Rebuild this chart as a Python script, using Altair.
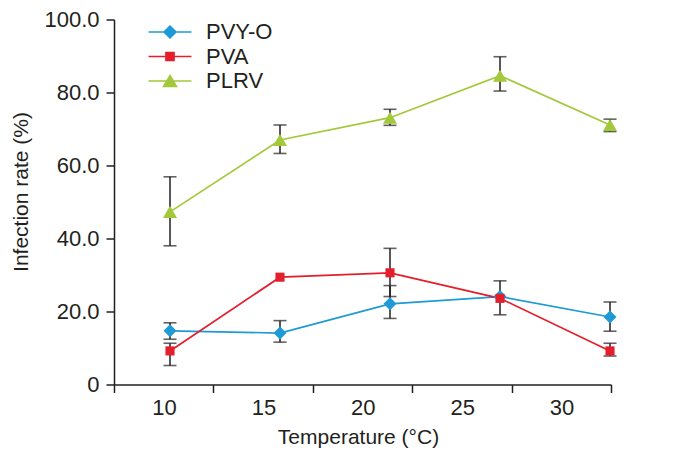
import json
import altair as alt
import pandas as pd

# ---------------- data ----------------
TEMPS = [10, 15, 20, 25, 30]
TEMP_LABELS = ["10", "15", "20", "25", "30"]
SERIES = ["PVY-O", "PVA", "PLRV"]
COLORS = ["#1e9ad6", "#e41e2b", "#a3c83a"]

PVY_O = [14.7, 14.1, 22.1, 24.1, 18.5]
PVY_O_LO = [12.4, 11.6, 18.1, 19.1, 14.6]
PVY_O_HI = [16.9, 17.5, 27.1, 28.4, 22.6]

PVA = [9.2, 29.4, 30.6, 23.6, 9.2]
PVA_LO = [5.2, 29.4, 24.1, 23.6, 7.8]
PVA_HI = [11.3, 29.4, 37.3, 23.6, 11.3]

PLRV = [47.3, 67.0, 73.1, 84.6, 71.1]
PLRV_LO = [38.0, 63.3, 71.0, 80.4, 69.3]
PLRV_HI = [56.9, 71.1, 75.4, 89.8, 72.7]

Y_TICKS = [0, 20, 40, 60, 80, 100]

# ---------------- styling ----------------
FONT = "Liberation Sans"
INK = "#231f20"
X_DOMAIN = [7.4545, 30.045]
X_TICKS = [round(X_DOMAIN[0] + k * (X_DOMAIN[1] - X_DOMAIN[0]) / 5, 4) for k in range(6)]

# marker paths (unit = sqrt(size)/2 px)
MARK_PATHS = [
    "M0,-1L1,0L0,1L-1,0Z",
    "M-0.7,-0.7L0.7,-0.7L0.7,0.7L-0.7,0.7Z",
    "M0,-0.93L1.08,0.93L-1.08,0.93Z",
]
LEG_PATHS = ["M-3.3,0L3.3,0" + p for p in [
    "M0,-0.92L0.92,0L0,0.92L-0.92,0Z",
    "M-0.62,-0.62L0.62,-0.62L0.62,0.62L-0.62,0.62Z",
    "M0,-0.85L1.0,0.85L-1.0,0.85Z",
]]

rows = []
for name, vals, lo, hi in [
    ("PVY-O", PVY_O, PVY_O_LO, PVY_O_HI),
    ("PVA", PVA, PVA_LO, PVA_HI),
    ("PLRV", PLRV, PLRV_LO, PLRV_HI),
]:
    for t, v, l, h in zip(TEMPS, vals, lo, hi):
        rows.append({"series": name, "temp": t, "value": v, "lo": l, "hi": h})
df = pd.DataFrame(rows)
err = df[df["hi"] > df["lo"]]

label_expr = (
    f"{json.dumps(TEMP_LABELS + [''])}[indexof({json.dumps(X_TICKS)}, datum.value)]"
)

x_enc = alt.X(
    "temp:Q",
    scale=alt.Scale(domain=X_DOMAIN, nice=False, zero=False),
    axis=alt.Axis(
        values=X_TICKS,
        labelExpr=label_expr,
        labelOffset=50,
        labelFlush=False,
        labelPadding=5,
        tickSize=8,
        title="Temperature (°C)",
        titlePadding=8,
        titleX=244,
        grid=False,
    ),
)
y_axis = alt.Axis(
    values=Y_TICKS,
    labelExpr="datum.value == 0 ? '0' : format(datum.value, '.1f')",
    labelFlush=False,
    labelPadding=7,
    tickSize=8,
    title="Infection rate (%)",
    titlePadding=12,
    titleY=172,
    grid=False,
)
Y_SCALE = alt.Scale(domain=[0, 100], nice=False)
y_enc = alt.Y("value:Q", scale=Y_SCALE, axis=y_axis)

color_enc = alt.Color("series:N", scale=alt.Scale(domain=SERIES, range=COLORS), legend=None)

base = alt.Chart(df)

rules = alt.Chart(err).mark_rule(color=INK, strokeWidth=1.5).encode(
    x=x_enc, y=alt.Y("lo:Q", scale=Y_SCALE, axis=y_axis), y2="hi:Q"
)
cap_lo = alt.Chart(err).mark_tick(color=INK, orient="horizontal", size=13, thickness=1.6).encode(
    x=x_enc, y=alt.Y("lo:Q", scale=Y_SCALE, axis=y_axis)
)
cap_hi = alt.Chart(err).mark_tick(color=INK, orient="horizontal", size=13, thickness=1.6).encode(
    x=x_enc, y=alt.Y("hi:Q", scale=Y_SCALE, axis=y_axis)
)

lines = base.mark_line(strokeWidth=1.7).encode(x=x_enc, y=y_enc, color=color_enc)

points = base.mark_point(filled=True, size=169, opacity=1).encode(
    x=x_enc,
    y=y_enc,
    color=color_enc,
    shape=alt.Shape("series:N", scale=alt.Scale(domain=SERIES, range=MARK_PATHS), legend=None),
)

leg = alt.Legend(
    title=None,
    orient="none",
    legendX=45,
    legendY=1.5,
    padding=0,
    labelFont=FONT,
    labelFontSize=22,
    labelColor=INK,
    labelOffset=25,
    rowPadding=2.5,
    symbolSize=169,
    symbolStrokeWidth=1.6,
    symbolOpacity=1,
)
legend_layer = base.mark_point(filled=True, size=169, opacity=0, strokeWidth=1.6).encode(
    x=x_enc,
    y=y_enc,
    fill=alt.Fill("series:N", scale=alt.Scale(domain=SERIES, range=COLORS), legend=leg),
    stroke=alt.Stroke("series:N", scale=alt.Scale(domain=SERIES, range=COLORS), legend=leg),
    shape=alt.Shape("series:N", scale=alt.Scale(domain=SERIES, range=LEG_PATHS), legend=leg),
)

chart = (
    alt.layer(rules, cap_lo, cap_hi, lines, points, legend_layer)
    .resolve_scale(shape="independent", fill="independent", stroke="independent")
    .properties(
        width=497,
        height=365,
        autosize=alt.AutoSizeParams(type="none"),
        padding={"left": 106, "top": 11.5, "right": 59, "bottom": 76.5},
        background="white",
    )
    .configure_view(stroke=None)
    .configure_axis(
        domainColor=INK,
        domainWidth=1.5,
        tickColor=INK,
        tickWidth=1.5,
        labelColor=INK,
        labelFont=FONT,
        labelFontSize=22,
        titleColor=INK,
        titleFont=FONT,
        titleFontSize=21,
        titleFontWeight="normal",
    )
)

chart.save("out.html", embed_options={"renderer": "svg", "actions": False})
